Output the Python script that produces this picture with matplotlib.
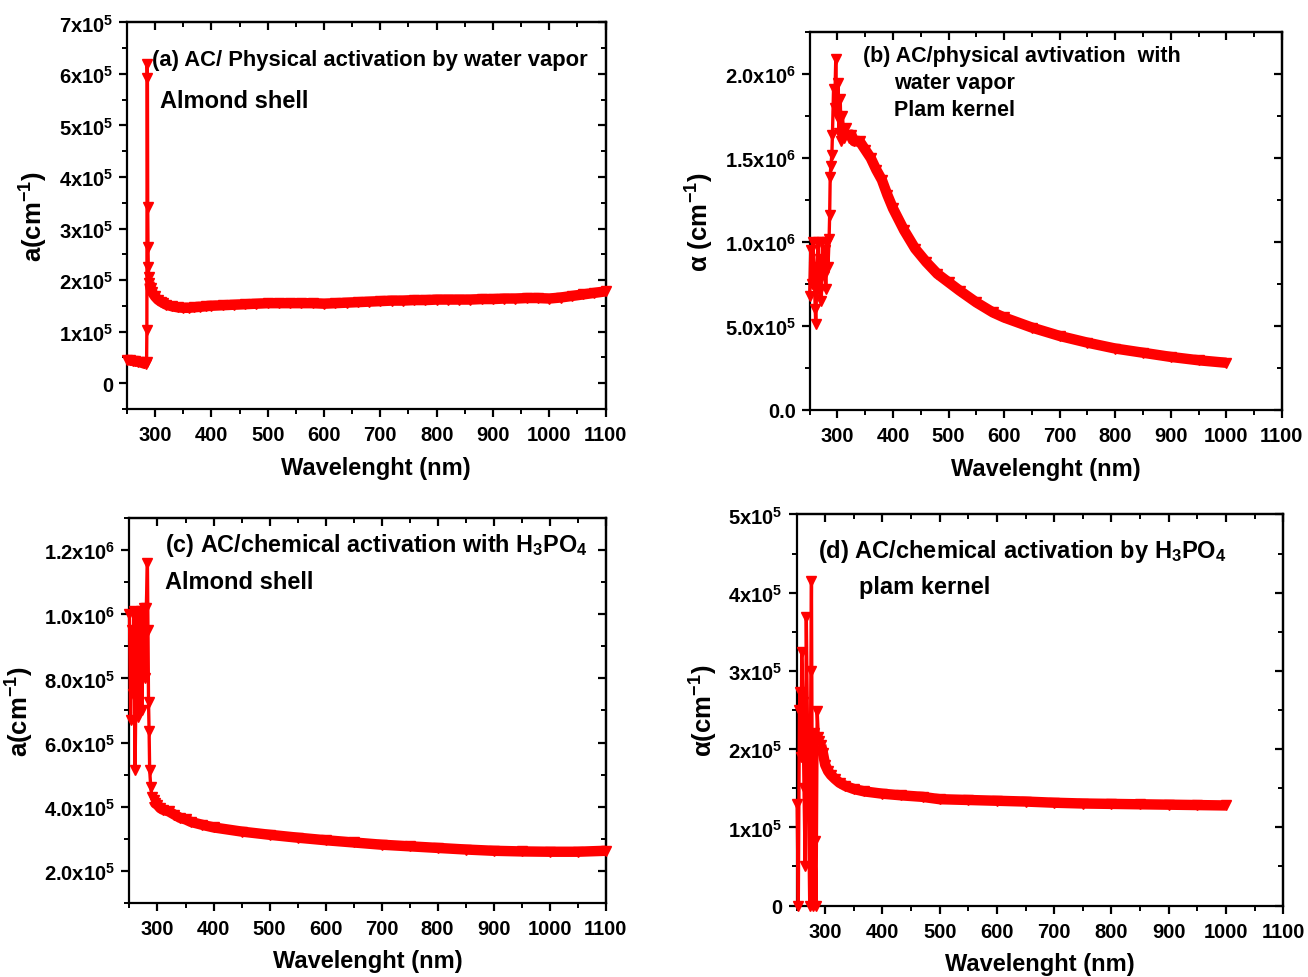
import matplotlib
matplotlib.use("Agg")
import matplotlib.pyplot as plt
from matplotlib.ticker import MultipleLocator, FixedLocator, FixedFormatter, NullFormatter


# (a) AC / physical activation, almond shell
wl_a = [250, 255, 260, 265, 270, 275, 280, 284, 285, 285.5,
        286, 286.5, 287, 287.5, 288, 289, 290, 292, 295, 300,
        305, 310, 315, 320, 330, 340, 350, 360, 370, 380,
        390, 400, 420, 440, 460, 480, 500, 520, 540, 560,
        580, 600, 620, 640, 660, 680, 700, 720, 740, 760,
        780, 800, 820, 840, 860, 880, 900, 920, 940, 960,
        980, 1000, 1020, 1040, 1060, 1080, 1100]
alpha_a = [45000, 44000, 43000, 42000, 41000, 40000, 38000, 37000, 40000, 103000,
           620000, 593000, 342000, 265000, 226000, 205000, 195000, 185000, 176000, 168000,
           162000, 158000, 155000, 152000, 149000, 147000, 146000, 146000, 147000, 148000,
           149000, 150000, 151000, 152000, 153000, 154000, 155000, 155000, 155000, 155000,
           155000, 154000, 155000, 156000, 157000, 158000, 159000, 160000, 160000, 161000,
           161000, 162000, 162000, 162000, 162000, 163000, 163000, 164000, 164000, 165000,
           165000, 164000, 166000, 169000, 172000, 175000, 178000]

# (b) AC / physical activation, palm kernel
wl_b = [250, 252, 254, 256, 258, 260, 261, 263, 265, 267,
        269, 271, 273, 275, 277, 279, 281, 283, 285, 286,
        287, 288, 290, 291, 293, 295, 297, 299, 301, 303,
        305, 307, 309, 312, 315, 320, 325, 330, 340, 350,
        360, 370, 380, 390, 400, 420, 440, 460, 480, 500,
        520, 550, 580, 600, 650, 700, 750, 800, 850, 900,
        950, 1000]
alpha_b = [6.8e5, 9.5e5, 7.5e5, 1.0e6, 8.5e5, 6.0e5, 5.1e5, 8.0e5, 1.0e6, 7.0e5,
           9.0e5, 6.5e5, 1.0e6, 8.0e5, 9.5e5, 7.2e5, 1.0e6, 8.5e5, 1.02e6, 1.16e6,
           1.39e6, 1.45e6, 1.52e6, 1.64e6, 1.91e6, 1.80e6, 2.09e6, 1.75e6, 1.95e6, 1.65e6,
           1.85e6, 1.60e6, 1.75e6, 1.62e6, 1.68e6, 1.62e6, 1.64e6, 1.60e6, 1.60e6, 1.55e6,
           1.50e6, 1.43e6, 1.37e6, 1.28e6, 1.20e6, 1.07e6, 0.96e6, 0.88e6, 0.81e6, 0.76e6,
           0.71e6, 0.64e6, 0.58e6, 0.55e6, 0.49e6, 0.44e6, 0.40e6, 0.365e6, 0.34e6, 0.315e6,
           0.295e6, 0.28e6]

# (c) AC / chemical activation H3PO4, almond shell
wl_c = [250, 252, 254, 256, 258, 260, 262, 264, 266, 268,
        270, 272, 274, 276, 278, 280, 282, 283, 284, 285,
        286, 288, 290, 293, 296, 300, 305, 310, 320, 330,
        340, 350, 360, 380, 400, 450, 500, 550, 600, 650,
        700, 750, 800, 850, 900, 950, 1000, 1050, 1100]
alpha_c = [1.0e6, 0.67e6, 0.95e6, 0.75e6, 1.01e6, 0.515e6, 0.85e6, 1.0e6, 0.68e6, 0.9e6,
           1.01e6, 0.7e6, 0.95e6, 1.02e6, 0.8e6, 1.02e6, 1.16e6, 0.95e6, 0.725e6, 0.635e6,
           0.515e6, 0.46e6, 0.43e6, 0.42e6, 0.41e6, 0.405e6, 0.395e6, 0.39e6, 0.385e6, 0.375e6,
           0.365e6, 0.36e6, 0.352e6, 0.343e6, 0.335e6, 0.322e6, 0.312e6, 0.303e6, 0.295e6, 0.288e6,
           0.281e6, 0.276e6, 0.271e6, 0.266e6, 0.262e6, 0.26e6, 0.259e6, 0.259e6, 0.262e6]

# (d) AC / chemical activation H3PO4, palm kernel
wl_d = [251, 253, 255, 256, 258, 259, 261, 263, 265, 267,
        269, 271, 273, 275, 276, 278, 280, 282, 284, 286,
        288, 290, 293, 296, 300, 305, 310, 317, 325, 335,
        350, 368, 400, 432, 470, 500, 550, 600, 650, 700,
        750, 800, 850, 900, 950, 1000]
alpha_d = [130000, 0, 250000, 273000, 190000, 324000, 260000, 150000, 50000, 369000,
           230000, 120000, 0, 300000, 415000, 0, 220000, 82000, 0, 249000,
           215000, 210000, 205000, 195000, 180000, 172000, 167000, 162000, 157000, 153000,
           149000, 146000, 143000, 141000, 139000, 136000, 135000, 134000, 133000, 131500,
           130500, 130000, 129500, 129000, 128500, 128000]

xticks = [300, 400, 500, 600, 700, 800, 900, 1000, 1100]

yticks_a = [0, 1e5, 2e5, 3e5, 4e5, 5e5, 6e5, 7e5]
ylabels_a = ["0"] + [f"{i}x10$^5$" for i in range(1, 8)]
yticks_b = [0, 5e5, 1e6, 1.5e6, 2e6]
ylabels_b = ["0.0", "5.0x10$^5$", "1.0x10$^6$", "1.5x10$^6$", "2.0x10$^6$"]
yticks_c = [2e5, 4e5, 6e5, 8e5, 1e6, 1.2e6]
ylabels_c = ["2.0x10$^5$", "4.0x10$^5$", "6.0x10$^5$", "8.0x10$^5$", "1.0x10$^6$", "1.2x10$^6$"]
yticks_d = [0, 1e5, 2e5, 3e5, 4e5, 5e5]
ylabels_d = ["0"] + [f"{i}x10$^5$" for i in range(1, 6)]

plt.rcParams["font.family"] = ["Liberation Sans", "DejaVu Sans"]
plt.rcParams["font.weight"] = "bold"
plt.rcParams["mathtext.fontset"] = "custom"
plt.rcParams["mathtext.rm"] = "Liberation Sans:bold"
plt.rcParams["mathtext.it"] = "Liberation Sans:bold"
plt.rcParams["mathtext.bf"] = "Liberation Sans:bold"
plt.rcParams["axes.linewidth"] = 1.6

RED = "#ff0000"

fig = plt.figure(figsize=(13.08, 9.78), dpi=100)
ax_a = fig.add_axes([0.097, 0.581, 0.366, 0.395])
ax_b = fig.add_axes([0.619, 0.580, 0.361, 0.386])
ax_c = fig.add_axes([0.099, 0.076, 0.364, 0.393])
ax_d = fig.add_axes([0.609, 0.073, 0.372, 0.400])


def draw(ax, x, y, bands, ylim, yticks, ylabels, yminor, ylabel):
    ax.plot(x, y, color=RED, lw=2.4, marker="v", ms=7.5, clip_on=False, zorder=3)
    # the dense marker band of the smooth parts
    for lo, hi in bands:
        xs = [v for v in x if lo <= v <= hi]
        ys = [y[i] for i, v in enumerate(x) if lo <= v <= hi]
        ax.plot(xs, ys, color=RED, lw=7.5, solid_capstyle="butt", zorder=3)
    ax.set_xlim(250, 1100)
    ax.set_ylim(*ylim)
    ax.xaxis.set_major_locator(FixedLocator(xticks))
    ax.xaxis.set_minor_locator(MultipleLocator(50))
    ax.yaxis.set_major_locator(FixedLocator(yticks))
    ax.yaxis.set_major_formatter(FixedFormatter(ylabels))
    ax.yaxis.set_minor_locator(MultipleLocator(yminor))
    ax.tick_params(which="major", direction="out", length=6, width=1.6, labelsize=14.5, pad=4)
    ax.tick_params(axis="x", which="major", pad=6)
    ax.tick_params(which="minor", direction="out", length=3.5, width=1.4)
    ax.set_xlabel("Wavelenght (nm)", fontsize=17, fontweight="bold", labelpad=8)
    ax.set_ylabel(ylabel, fontsize=18.5, fontweight="bold", labelpad=6)
    # mirrored ticks pointing inward on top and right
    top = ax.secondary_xaxis("top")
    top.xaxis.set_major_locator(FixedLocator(xticks))
    top.xaxis.set_minor_locator(MultipleLocator(50))
    top.xaxis.set_major_formatter(NullFormatter())
    top.tick_params(which="major", direction="in", length=6, width=1.6)
    top.tick_params(which="minor", direction="in", length=3.5, width=1.4)
    right = ax.secondary_yaxis("right")
    right.yaxis.set_major_locator(FixedLocator(yticks))
    right.yaxis.set_minor_locator(MultipleLocator(yminor))
    right.yaxis.set_major_formatter(NullFormatter())
    right.tick_params(which="major", direction="in", length=6, width=1.6)
    right.tick_params(which="minor", direction="in", length=3.5, width=1.4)


draw(ax_a, wl_a, alpha_a, [(250, 284), (290, 1100)], (-5e4, 7e5), yticks_a, ylabels_a, 5e4,
     "a(cm$^{-1}$)")
draw(ax_b, wl_b, alpha_b, [(318, 1000)], (0, 2.25e6), yticks_b, ylabels_b, 2.5e5,
     "α (cm$^{-1}$)")
draw(ax_c, wl_c, alpha_c, [(292, 1100)], (1e5, 1.3e6), yticks_c, ylabels_c, 1e5,
     "a(cm$^{-1}$)")
draw(ax_d, wl_d, alpha_d, [(292, 1000)], (0, 5e5), yticks_d, ylabels_d, 5e4,
     "α(cm$^{-1}$)")
ax_a.xaxis.label.set_x(0.52)

ax_a.text(0.052, 0.904, "(a) AC/ Physical activation by water vapor", transform=ax_a.transAxes,
          fontsize=15.8, fontweight="bold", va="center")
ax_a.text(0.069, 0.798, "Almond shell", transform=ax_a.transAxes,
          fontsize=17, fontweight="bold", va="center")

ax_b.text(0.112, 0.939, "(b) AC/physical avtivation  with", transform=ax_b.transAxes,
          fontsize=15.5, fontweight="bold", va="center")
ax_b.text(0.178, 0.868, "water vapor", transform=ax_b.transAxes,
          fontsize=15.5, fontweight="bold", va="center")
ax_b.text(0.178, 0.796, "Plam kernel", transform=ax_b.transAxes,
          fontsize=15.5, fontweight="bold", va="center")

ax_c.text(0.074, 0.932, "(c) AC/chemical activation with H$_3$PO$_4$", transform=ax_c.transAxes,
          fontsize=16.8, fontweight="bold", va="center")
ax_c.text(0.074, 0.836, "Almond shell", transform=ax_c.transAxes,
          fontsize=17, fontweight="bold", va="center")

ax_d.text(0.045, 0.908, "(d) AC/chemical activation by H$_3$PO$_4$", transform=ax_d.transAxes,
          fontsize=17, fontweight="bold", va="center")
ax_d.text(0.128, 0.816, "plam kernel", transform=ax_d.transAxes,
          fontsize=17, fontweight="bold", va="center")

fig.savefig("out.png", dpi=100)
